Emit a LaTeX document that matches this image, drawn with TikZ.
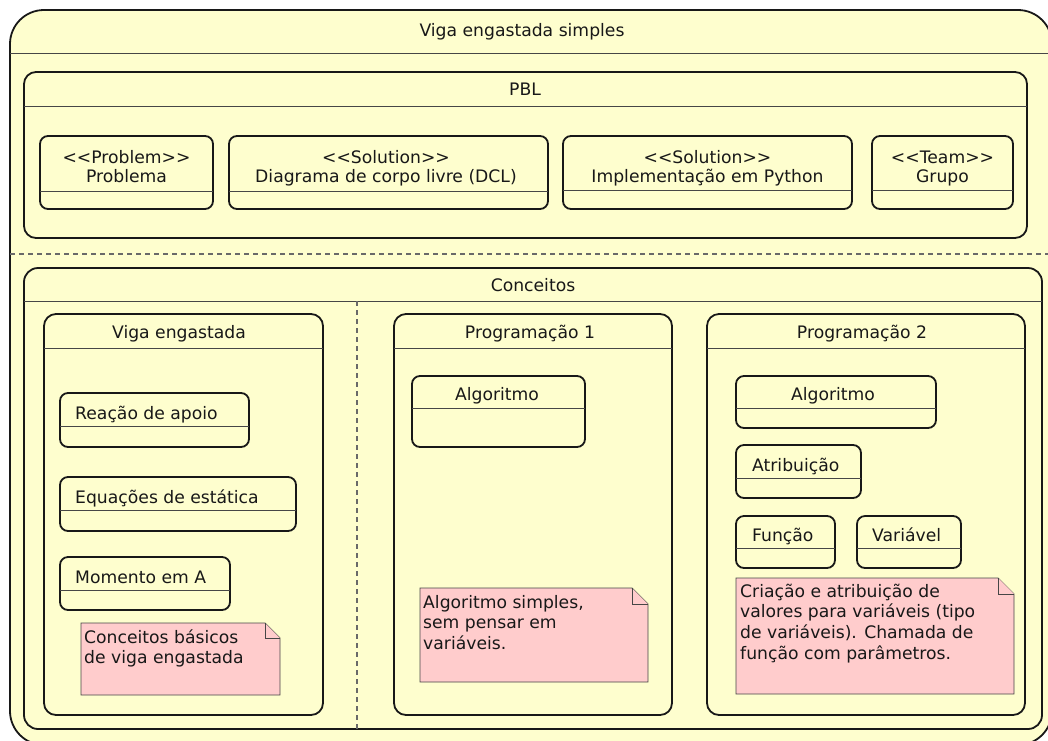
\documentclass[tikz,border=0pt]{standalone}
\usepackage{fontspec}
\setmainfont{DejaVu Sans}
\definecolor{umlyellow}{HTML}{FEFECE}
\definecolor{umlpink}{HTML}{FFCCCC}
\definecolor{umlline}{HTML}{181818}
\tikzset{
  statebox/.style={draw=umlline, fill=umlyellow, line width=1.8pt},
  sepline/.style={draw=umlline!80, line width=1pt},
  notebox/.style={draw=umlline!80, fill=umlpink, line width=0.9pt},
  dashline/.style={draw=umlline!65, line width=1.3pt, dash pattern=on 5pt off 4pt},
  lbl/.style={inner sep=0pt, text=umlline, font=\fontsize{17.2}{19}\selectfont},
  stype/.style={lbl, align=center, anchor=north},
  notetxt/.style={lbl, align=left, anchor=north west, font=\fontsize{17.2}{20.7}\selectfont},
}
% state box: [radius] x1 y1 x2 y2 header line
\newcommand{\umlstate}[6][8]{%
  \filldraw[statebox, rounded corners=#1] (#2,#3) rectangle (#4,#5);
  \draw[sepline] (#2,#6) -- (#4,#6);}
% note with folded corner: x1 y1 x2 y2 fold
\newcommand{\umlnote}[5]{%
  \filldraw[notebox] (#1,#2) -- ({#3-#5},#2) -- (#3,{#2+#5}) -- (#3,#4) -- (#1,#4) -- cycle;
  \draw[notebox] ({#3-#5},#2) -- ({#3-#5},{#2+#5}) -- (#3,{#2+#5});}
\newcommand{\stereo}[1]{\textless\kern0pt\textless#1\textgreater\kern0pt\textgreater}

\begin{document}
\begin{tikzpicture}[x=1pt, y=-1pt]
    \useasboundingbox (0,0) rectangle (1048,740);
    \clip (0,0) rectangle (1048,740);
    % outer state
    \umlstate[34]{10}{10}{1052}{745}{53}
    \node[lbl, anchor=base] (viga) at (522,36) {Viga engastada simples};
    % PBL
    \umlstate[12]{24}{72}{1027}{238}{106}
    \node[lbl, anchor=base] (pbl) at (525,95) {PBL};
    \umlstate{40}{136}{213}{209}{191}
    \umlstate{229}{136}{548}{209}{191}
    \umlstate{563}{136}{852}{209}{190}
    \umlstate{872}{136}{1013}{209}{190}
    \node[stype] (prob) at (126.5,149) {\rule{0pt}{14pt}\stereo{Problem}\\Problema};
    \node[stype] (dcl) at (386,149) {\rule{0pt}{14pt}\stereo{Solution}\\Diagrama de corpo livre (DCL)};
    \node[stype] (python) at (707.5,149) {\rule{0pt}{14pt}\stereo{Solution}\\Implementação em Python};
    \node[stype] (team) at (942.5,149) {\rule{0pt}{14pt}\stereo{Team}\\Grupo};
    \draw[dashline] (10,254) -- (1052,254);
    % Conceitos
    \umlstate[14]{24}{268}{1042}{729}{301}
    \node[lbl, anchor=base] (conc) at (533,291) {Conceitos};
    \draw[dashline] (357,301) -- (357,729);
    % Viga engastada
    \umlstate[12]{44}{314}{323}{715}{348}
    \node[lbl, anchor=base] (vigaeng) at (179,338) {Viga engastada};
    \umlstate{60}{393}{249}{447}{426}
    \umlstate{60}{477}{296}{531}{510}
    \umlstate{60}{557}{230}{610}{590}
    \node[lbl, anchor=base west] (reacao) at (75,419) {Reação de apoio};
    \node[lbl, anchor=base west] (equacoes) at (75,503) {Equações de estática};
    \node[lbl, anchor=base west] (momento) at (75,583) {Momento em A};
    \umlnote{81}{623}{280}{695}{15}
    \node[notetxt] (nota1) at (84,629) {\rule{0pt}{14pt}Conceitos básicos\\de viga engastada};
    % Programacao 1
    \umlstate[12]{394}{314}{672}{715}{348}
    \node[lbl, anchor=base] (prog1) at (530,338) {Programação 1};
    \umlstate{412}{376}{585}{447}{408}
    \node[lbl, anchor=base] (alg1) at (497,400) {Algoritmo};
    \umlnote{420}{588}{648}{682}{16}
    \node[notetxt] (nota2) at (423,594) {\rule{0pt}{14pt}Algoritmo simples,\\sem pensar em\\variáveis.};
    % Programacao 2
    \umlstate[12]{707}{314}{1025}{715}{348}
    \node[lbl, anchor=base] (prog2) at (862,338) {Programação 2};
    \umlstate{736}{376}{936}{428}{408}
    \umlstate{736}{445}{861}{498}{478}
    \umlstate{736}{516}{835}{568}{548}
    \umlstate{857}{516}{961}{568}{548}
    \node[lbl, anchor=base] (alg2) at (833,400) {Algoritmo};
    \node[lbl, anchor=base west] (atrib) at (752,471) {Atribuição};
    \node[lbl, anchor=base west] (funcao) at (752,541) {Função};
    \node[lbl, anchor=base west] (variavel) at (872,541) {Variável};
    \umlnote{736}{578}{1014}{694}{16}
    \node[notetxt] (nota3) at (740,583) {\rule{0pt}{14pt}Criação e atribuição de\\valores para variáveis (tipo\\de variáveis). Chamada de\\função com parâmetros.};
\end{tikzpicture}
\end{document}
